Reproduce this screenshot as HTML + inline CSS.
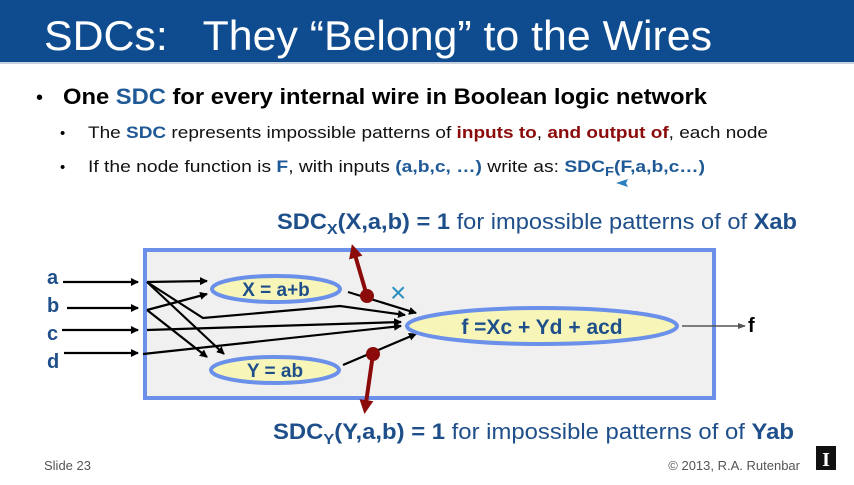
<!DOCTYPE html>
<html><head><meta charset="utf-8"><style>
body{margin:0;width:854px;height:480px;overflow:hidden;background:#fff;font-family:"Liberation Sans",sans-serif}
</style></head><body>
<svg width="854" height="480" viewBox="0 0 854 480" xmlns="http://www.w3.org/2000/svg" font-family="Liberation Sans, sans-serif">
<defs>
<marker id="ah" markerWidth="8" markerHeight="8" refX="7" refY="4" orient="auto" markerUnits="userSpaceOnUse"><path d="M0,0 L8,4 L0,8 z" fill="#000"/></marker>
<marker id="ag" markerWidth="8" markerHeight="8" refX="7" refY="4" orient="auto" markerUnits="userSpaceOnUse"><path d="M0,1 L8,4 L0,7 z" fill="#555"/></marker>
<marker id="ar" markerWidth="14" markerHeight="14" refX="10" refY="7" orient="auto" markerUnits="userSpaceOnUse"><path d="M0,0 L14,7 L0,14 z" fill="#8b0a0a"/></marker>
</defs>
<rect x="0" y="0" width="854" height="62" fill="#0f4c8f"/>
<rect x="0" y="62" width="854" height="2" fill="#c8d0dc"/>
<text x="44" y="50" font-size="42" fill="#fff" textLength="668" lengthAdjust="spacingAndGlyphs">SDCs:&#160;&#160; They “Belong” to the Wires</text>

<text x="36" y="104" font-size="20" fill="#000">•</text>
<text x="63" y="104" font-size="22" font-weight="bold" fill="#000" textLength="644" lengthAdjust="spacingAndGlyphs">One <tspan fill="#1f5a96">SDC</tspan> for every internal wire in Boolean logic network</text>
<text x="60" y="138" font-size="15" fill="#000">•</text>
<text x="88" y="138" font-size="17" fill="#111" textLength="680" lengthAdjust="spacingAndGlyphs">The <tspan fill="#1f5a96" font-weight="bold">SDC</tspan> represents impossible patterns of <tspan fill="#8b0a0a" font-weight="bold">inputs to</tspan>, <tspan fill="#8b0a0a" font-weight="bold">and output of</tspan>, each node</text>
<text x="60" y="172" font-size="15" fill="#000">•</text>
<text x="88" y="172" font-size="17" fill="#111" textLength="617" lengthAdjust="spacingAndGlyphs">If the node function is <tspan fill="#1f5a96" font-weight="bold">F</tspan>, with inputs <tspan fill="#1f5a96" font-weight="bold">(a,b,c, …)</tspan> write as:  <tspan fill="#1f5a96" font-weight="bold">SDC<tspan font-size="13" dy="4">F</tspan><tspan dy="-4">(F,a,b,c…)</tspan></tspan></text>
<path d="M616,183 l12,-4 l-2,4 l2,4 z" fill="#2a7fc0"/>

<text x="277" y="229" font-size="22" fill="#1f4f8a" textLength="520" lengthAdjust="spacingAndGlyphs"><tspan font-weight="bold">SDC<tspan font-size="15" dy="5">X</tspan><tspan dy="-5">(X,a,b) = 1</tspan></tspan> for impossible patterns of of <tspan font-weight="bold">Xab</tspan></text>

<rect x="145" y="250" width="569" height="148" fill="#f0f0f0" stroke="#6a90ea" stroke-width="4"/>

<g font-size="20" font-weight="bold" fill="#1f4f8a">
<text x="47" y="284">a</text><text x="47" y="312">b</text><text x="47" y="340">c</text><text x="47" y="368">d</text>
</g>
<g stroke="#000" stroke-width="2.2" fill="none" marker-end="url(#ah)">
<line x1="63" y1="282" x2="138" y2="282"/>
<line x1="67" y1="308" x2="138" y2="308"/>
<line x1="62" y1="330" x2="138" y2="330"/>
<line x1="64" y1="353" x2="138" y2="353"/>
<line x1="147" y1="282" x2="207" y2="281"/>
<line x1="147" y1="310" x2="207" y2="294"/>
<line x1="147" y1="282" x2="224" y2="354"/>
<line x1="147" y1="310" x2="207" y2="357"/>
<polyline points="147,282 203,318 340,306 405,315"/>
<line x1="147" y1="330" x2="401" y2="322"/>
<line x1="143" y1="354" x2="401" y2="326"/>
<line x1="348" y1="292" x2="416" y2="313"/>
<line x1="343" y1="365" x2="416" y2="334"/>
</g>
<line x1="682" y1="326" x2="745" y2="326" stroke="#555" stroke-width="1.5" marker-end="url(#ag)"/>
<text x="748" y="332" font-size="20" font-weight="bold" fill="#000">f</text>

<ellipse cx="276" cy="289" rx="64" ry="13" fill="#f7f5b8" stroke="#6a90ea" stroke-width="4"/>
<text x="276" y="296" font-size="19" font-weight="bold" fill="#1f4f8a" text-anchor="middle">X = a+b</text>
<ellipse cx="275" cy="370" rx="64" ry="13" fill="#f7f5b8" stroke="#6a90ea" stroke-width="4"/>
<text x="275" y="377" font-size="19" font-weight="bold" fill="#1f4f8a" text-anchor="middle">Y = ab</text>
<ellipse cx="542" cy="326" rx="135" ry="18" fill="#f7f5b8" stroke="#6a90ea" stroke-width="4"/>
<text x="542" y="334" font-size="21" font-weight="bold" fill="#1f4f8a" text-anchor="middle">f =Xc + Yd + acd</text>

<text x="390" y="302" font-size="28" fill="#2a8fc0">×</text>

<line x1="367" y1="296" x2="353" y2="248" stroke="#8b0a0a" stroke-width="4" marker-end="url(#ar)"/>
<circle cx="367" cy="296" r="7" fill="#8b0a0a"/>
<line x1="373" y1="354" x2="365" y2="410" stroke="#8b0a0a" stroke-width="4" marker-end="url(#ar)"/>
<circle cx="373" cy="354" r="7" fill="#8b0a0a"/>

<text x="273" y="439" font-size="22" fill="#1f4f8a" textLength="521" lengthAdjust="spacingAndGlyphs"><tspan font-weight="bold">SDC<tspan font-size="15" dy="5">Y</tspan><tspan dy="-5">(Y,a,b) = 1</tspan></tspan> for impossible patterns of of <tspan font-weight="bold">Yab</tspan></text>

<text x="44" y="470" font-size="13" fill="#555">Slide 23</text>
<text x="800" y="470" font-size="13" fill="#555" text-anchor="end">© 2013, R.A. Rutenbar</text>
<rect x="816" y="446" width="20" height="24" fill="#111"/>
<text x="826" y="466" font-size="20" font-weight="bold" fill="#fff" text-anchor="middle" font-family="Liberation Serif, serif">I</text>
</svg>
</body></html>
